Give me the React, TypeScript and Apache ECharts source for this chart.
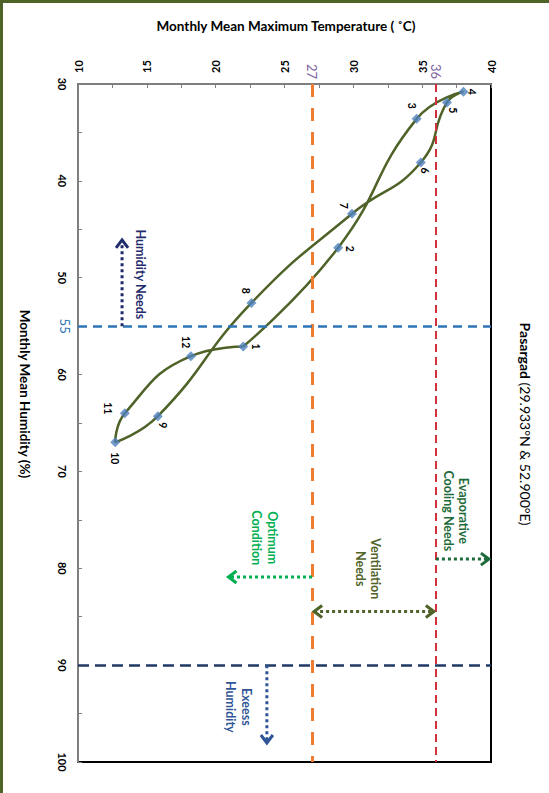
import React, { useEffect, useRef } from 'react';
import * as echarts from 'echarts';

// ---- Data ----
const months = ['1', '2', '3', '4', '5', '6', '7', '8', '9', '10', '11', '12'];
const humidity = [57.1, 46.9, 33.6, 30.8, 31.9, 38.1, 43.4, 52.6, 64.3, 67.0, 64.0, 58.1];
const maxTemp = [22.0, 28.9, 34.6, 38.0, 36.8, 34.9, 29.9, 22.6, 15.8, 12.7, 13.4, 18.2];
const tempThresholds = [27, 36];
const humidityThresholds = [55, 90];
const tempTicks = [10, 15, 20, 25, 30, 35, 40];
const humidityTicks = [30, 40, 50, 60, 70, 80, 90, 100];

// ---- Styles ----
const FONT = 'Lato, "Open Sans", "Noto Sans", sans-serif';
const labelOffsets: number[][] = [
  [13, 0], [12, 1], [-5, -13], [9, 0], [6, 8], [4, 8],
  [-8, -8], [-5, -12], [5, 9], [0, 16], [-17, -5], [-5, -14],
];
const tempLineStyles = [
  { color: '#ED7D31', width: 3, type: [13, 11] },
  { color: '#D1303C', width: 2, type: [8, 5] },
];
const humLineStyles = [
  { color: '#2E75B6', width: 2.5, type: [9, 6] },
  { color: '#1F3864', width: 2.5, type: [11, 6] },
];

export default function App() {
  const ref = useRef<HTMLDivElement>(null);
  useEffect(() => {
    document.body.style.margin = '0';
    const chart = echarts.init(ref.current!, null, { renderer: 'svg' });
    const loop = [...months.map((_, i) => [maxTemp[i], humidity[i]]), [maxTemp[0], humidity[0]]];
    const axisCommon = {
      type: 'value',
      axisLine: { show: true, onZero: false, lineStyle: { color: '#7F7F7F', width: 2 } },
      axisTick: { show: true, inside: true, length: 4, lineStyle: { color: '#7F7F7F', width: 1 } },
      minorTick: { show: true, splitNumber: 2, length: 4, lineStyle: { color: '#7F7F7F', width: 1 } },
      splitLine: { show: false },
      minorSplitLine: { show: false },
    };
    chart.setOption({
      animation: false,
      grid: {
        left: 78, right: 58, top: 84, bottom: 31,
        show: true, borderColor: '#000', borderWidth: 2, backgroundColor: 'transparent',
      },
      xAxis: {
        ...axisCommon,
        position: 'top',
        min: tempTicks[0],
        max: tempTicks[tempTicks.length - 1],
        interval: tempTicks[1] - tempTicks[0],
        axisLabel: { rotate: -90, margin: 11, fontSize: 11, fontWeight: 'bold', color: '#000', fontFamily: FONT },
      },
      yAxis: {
        ...axisCommon,
        inverse: true,
        min: humidityTicks[0],
        max: humidityTicks[humidityTicks.length - 1],
        interval: humidityTicks[1] - humidityTicks[0],
        axisLabel: { rotate: -90, margin: 10, fontSize: 11, fontWeight: 'bold', color: '#000', fontFamily: FONT },
      },
      series: [
        {
          type: 'line',
          data: loop,
          smooth: 0.5,
          symbol: 'none',
          showSymbol: false,
          lineStyle: { color: '#4F6228', width: 2.5 },
          z: 3,
          markLine: {
            silent: true,
            symbol: ['none', 'none'],
            label: { show: false },
            data: [
              ...tempThresholds.map((t, i) => ({ xAxis: t, lineStyle: tempLineStyles[i] })),
              ...humidityThresholds.map((h, i) => ({ yAxis: h, lineStyle: humLineStyles[i] })),
            ],
          },
        },
        {
          type: 'scatter',
          data: months.map((_, i) => [maxTemp[i], humidity[i]]),
          symbol: 'diamond',
          symbolSize: 10,
          itemStyle: { color: '#4F81BD' },
          z: 4,
        },
      ],
    });

    const px = (t: number, h: number) => chart.convertToPixel({ gridIndex: 0 }, [t, h]) as number[];
    const txt = (x: number, y: number, text: string, color: string, size: number, weight: string, rot = true, extra: any = {}) => ({
      type: 'text',
      x, y,
      rotation: rot ? -Math.PI / 2 : 0,
      style: {
        text, fill: color, fontSize: size, fontWeight: weight, fontFamily: FONT,
        align: 'center', verticalAlign: 'middle', textAlign: 'center', textVerticalAlign: 'middle',
        lineHeight: size + 3,
        ...extra,
      },
      z: 20,
    });
    const head = (tip: number[], from: number[], color: string, back = 8, half = 6) => {
      const dx = tip[0] - from[0], dy = tip[1] - from[1];
      const L = Math.hypot(dx, dy) || 1;
      const ux = dx / L, uy = dy / L, nx = -uy, ny = ux;
      return {
        type: 'polyline',
        shape: { points: [[tip[0] - back * ux + half * nx, tip[1] - back * uy + half * ny], [tip[0], tip[1]], [tip[0] - back * ux - half * nx, tip[1] - back * uy - half * ny]] },
        style: { stroke: color, fill: 'none', lineWidth: 3 },
        z: 20,
      };
    };
    const arrow = (p0: number[], p1: number[], color: string, both = false) => {
      const els: any[] = [
        { type: 'line', shape: { x1: p0[0], y1: p0[1], x2: p1[0], y2: p1[1] }, style: { stroke: color, lineWidth: 3, lineDash: [3, 3] }, z: 20 },
        head(p1, p0, color),
      ];
      if (both) els.push(head(p0, p1, color));
      return els;
    };

    const els: any[] = [];
    // outer frame
    els.push({ type: 'rect', shape: { x: 1.5, y: 1.5, width: 600, height: 900 }, style: { fill: 'none', stroke: '#4F6228', lineWidth: 3 }, z: 30 });
    // titles
    els.push(txt(286, 26, 'Monthly Mean Maximum Temperature ( ˚C)', '#000', 13.5, 'bold', false));
    els.push(txt(25, 394, 'Monthly Mean Humidity (%)', '#000', 13.5, 'bold'));
    els.push(txt(525, 424, '{b|Pasargad} {r|(29.933°N & 52.900°E)}', '#000', 14, 'normal', true, {
      rich: {
        b: { fontWeight: 'bold', fontSize: 14, fontFamily: FONT, fill: '#000' },
        r: { fontWeight: 'normal', fontSize: 14, fontFamily: FONT, fill: '#000' },
      },
    }));
    // threshold labels
    tempThresholds.forEach((t) => {
      const p = px(t, humidityTicks[0]);
      els.push(txt(p[0], p[1] - 12.5, String(t), '#8064A2', 13, 'normal'));
    });
    {
      const p = px(tempTicks[0], humidityThresholds[0]);
      els.push(txt(p[0] - 13, p[1], String(humidityThresholds[0]), '#2E75B6', 13, 'normal'));
    }
    // month labels
    months.forEach((m, i) => {
      const p = px(maxTemp[i], humidity[i]);
      els.push(txt(p[0] + labelOffsets[i][0], p[1] + labelOffsets[i][1], m, '#000', 10.5, 'bold'));
    });
    // annotations
    const AF = 12.5;
    const navy = '#1F2B6B';
    els.push(...arrow(px(13.2, 55), px(13.2, 46.1), navy));
    els.push(txt(...(px(14.56, 49.66) as [number, number]), 'Humidity Needs', navy, AF, 'bold'));

    const evap = '#1E6B3A';
    els.push(...arrow(px(36, 79.05), px(39.85, 79.05), evap));
    els.push(txt(...(px(37.47, 74.07) as [number, number]), 'Evaporative\nCooling Needs', evap, AF, 'bold'));

    const vent = '#4F6228';
    els.push(...arrow(px(27.15, 84.46), px(35.85, 84.46), vent, true));
    els.push(txt(...(px(31.07, 80.05) as [number, number]), 'Ventilation\nNeeds', vent, AF, 'bold'));

    const opt = '#00B050';
    els.push(...arrow(px(27, 80.9), px(20.93, 80.9), opt));
    els.push(txt(...(px(23.56, 76.85) as [number, number]), 'Optimum\nCondition', opt, AF, 'bold'));

    const exc = '#2F5597';
    els.push(...arrow(px(23.72, 90), px(23.72, 98.04), exc));
    els.push(txt(...(px(21.66, 94.3) as [number, number]), 'Exeess\nHumidity', exc, AF, 'bold'));

    chart.setOption({ graphic: { elements: els } });
    return () => chart.dispose();
  }, []);
  return <div ref={ref} style={{ width: 549, height: 793 }} />;
}
